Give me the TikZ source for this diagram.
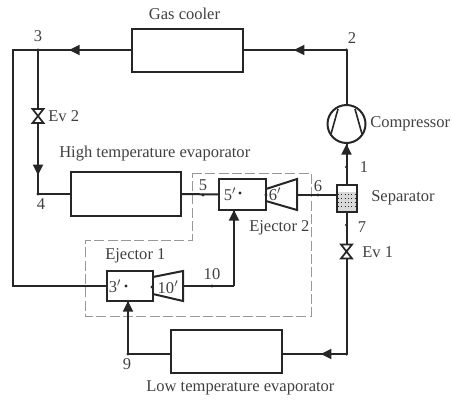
\documentclass[tikz,border=0pt]{standalone}
\usepackage{fontspec}
\setmainfont{Liberation Serif}
\usetikzlibrary{arrows.meta,decorations.markings}
\definecolor{ink}{HTML}{262626}
\definecolor{txt}{HTML}{404040}
\tikzset{
  pipe/.style={draw=ink,line width=1.5pt},
  unit/.style={draw=ink,line width=1.5pt,fill=white,inner sep=0pt,outer sep=0pt,minimum width=#1},
  unit/.default={83.25pt},
  lbl/.style={text=txt,font=\fontsize{12.4pt}{14pt}\selectfont,inner sep=0pt},
  lbll/.style={lbl,anchor=west},
  spot/.style={circle,fill=ink,inner sep=0pt,minimum size=2.6pt},
  flow/.style={postaction={decorate,decoration={markings,mark=at position #1 with {\arrow{Triangle[length=8pt,width=7.5pt]}}}}},
  frame/.style={draw=gray!80,line width=0.75pt,dash pattern=on 7.5pt off 2.5pt}
}
\newcommand{\valve}[1]{\draw[pipe,fill=white,line width=1.3pt,shift={(#1)}] (-5.5,-7) -- (5.5,-7) -- (-5.5,7) -- (5.5,7) -- cycle;}
\begin{document}
\begin{tikzpicture}[x=0.75pt,y=-0.75pt]
\useasboundingbox (0,0) rectangle (452,400);
% dashed frame
\draw[frame] (192,173) -- (311,173) -- (311,316) -- (85,316) -- (85,240) -- (192,240) -- cycle;
% junctions
\coordinate (n1) at (346.5,167);
\coordinate (n2) at (346.5,50);
\coordinate (n3) at (38,50);
\coordinate (c3) at (13,50);
\coordinate (c3b) at (13,286);
\coordinate (n4) at (38,194);
\coordinate (n5) at (203,195);
\coordinate (n6) at (318,195);
\coordinate (n7) at (346.5,225);
\coordinate (n8) at (346.5,354);
\coordinate (n9) at (128,354);
\coordinate (n10) at (212,286);
\coordinate (c10) at (234,286);
\coordinate (ev1) at (346.5,251.5);
\coordinate (ev2) at (38,116);
% units
\node[unit,minimum width=83.25pt,minimum height=32.25pt] (cooler) at (187.5,50) {};
\node[unit,minimum width=82.5pt,minimum height=33pt] (high) at (126,194) {};
\node[unit,minimum width=83.25pt,minimum height=32.25pt] (low) at (226.5,351.5) {};
\node[unit,minimum width=35.25pt,minimum height=23.25pt] (ej2) at (242.5,194.5) {};
\node[unit,minimum width=34.5pt,minimum height=22.5pt] (ej1) at (130,286) {};
\node[draw=ink,line width=1.5pt,circle,fill=white,inner sep=0pt,minimum size=28.5pt] (comp) at (346.5,124) {};
\node[unit,minimum width=15pt,minimum height=20.25pt] (sep) at (346.5,198.5) {};
% diffusers
\coordinate (d2a) at (266,189); \coordinate (d2b) at (297,179); \coordinate (d2c) at (297,210); \coordinate (d2d) at (266,201);
\coordinate (d2o) at (297,195);
\coordinate (d1a) at (153,277); \coordinate (d1b) at (183,271); \coordinate (d1c) at (183,301); \coordinate (d1d) at (153,294);
\coordinate (d1o) at (183,286);
\draw[pipe] (d2a) -- (d2b) -- (d2c) -- (d2d);
\draw[pipe] (d1a) -- (d1b) -- (d1c) -- (d1d);
% compressor blades
\draw[pipe,line width=1.2pt] (338,109) -- (331,134) (355,109) -- (362,134);
% separator liquid
\fill[gray!30] (337.5,192) rectangle (355.5,211);
\foreach \yy in {194,198,202,206}
  \draw[ink,line width=0.5pt,dotted] (338,\yy) -- (355,\yy);
\node[unit,fill=none,minimum width=15pt,minimum height=20.25pt] at (346.5,198.5) {};
% connectors
\draw[pipe,flow=0.67] (cooler.west) -- (n3);
\draw[pipe] (n3) -- (c3) -- (c3b) -- (ej1.west);
\draw[pipe,flow=0.51] (n2) -- (cooler.east);
\draw[pipe] (comp.north) -- (n2);
\draw[pipe,flow=1] (sep.north) -- (comp.south);
\draw[pipe,flow=0.87] (n3) -- (n4);
\draw[pipe] (n4) -- (high.west);
\draw[pipe] (high.east) -- (ej2.west);
\draw[pipe] (d2o) -- (sep.west |- d2o);
\draw[pipe] (sep.south) -- (n8);
\draw[pipe,flow=0.4] (n8) -- (low.east |- n8);
\draw[pipe] (low.west |- n9) -- (n9);
\draw[pipe,flow=1] (n9) -- (ej1.south -| n9);
\draw[pipe] (d1o) -- (c10);
\draw[pipe,flow=1] (c10) -- (ej2.south -| c10);
% valves
\valve{ev1}
\valve{ev2}
% dots
\foreach \p in {n1,n2,n3,n4,n5,n6,n7,n8,n9,n10} \node[spot] at (\p) {};
\node[spot] (s5) at (240,193) {};
\node[spot] (s6) at (266,195) {};
\node[spot] (s3) at (126,286) {};
\node[spot] (s10) at (152,287) {};
% labels
\node[lbl] (tcool) at (184.5,14) {Gas cooler};
\node[lbl] (t3) at (38,36) {3};
\node[lbl] (t2) at (352,38) {2};
\node[lbll] (tcomp) at (370,124) {Compressor};
\node[lbll] (tev2) at (48,116) {Ev 2};
\node[lbll] (thigh) at (59,154) {High temperature evaporator};
\node[lbl] (t4) at (41,204) {4};
\node[lbl] (t5) at (203,185) {5};
\node[lbl] (t6) at (318,186) {6};
\node[lbl] (t1) at (364,167) {1};
\node[lbll] (tsep) at (371,198) {Separator};
\node[lbl] (t7) at (362,227) {7};
\node[lbll] (tev1) at (362,252) {Ev 1};
\node[lbll] (tej2) at (249,228) {Ejector 2};
\node[lbll] (tej1) at (105,256) {Ejector 1};
\node[lbl] (t10) at (212,274) {10};
\node[lbl] (t9) at (127,364) {9};
\node[lbll] (tlow) at (146,388) {Low temperature evaporator};
\node[lbl] (i5) at (230,194) {5$'$};
\node[lbl] (i6) at (275,194) {6$'$};
\node[lbl] (i3) at (115,286) {3$'$};
\node[lbl] (i10) at (168,287) {10$'$};
\end{tikzpicture}
\end{document}
